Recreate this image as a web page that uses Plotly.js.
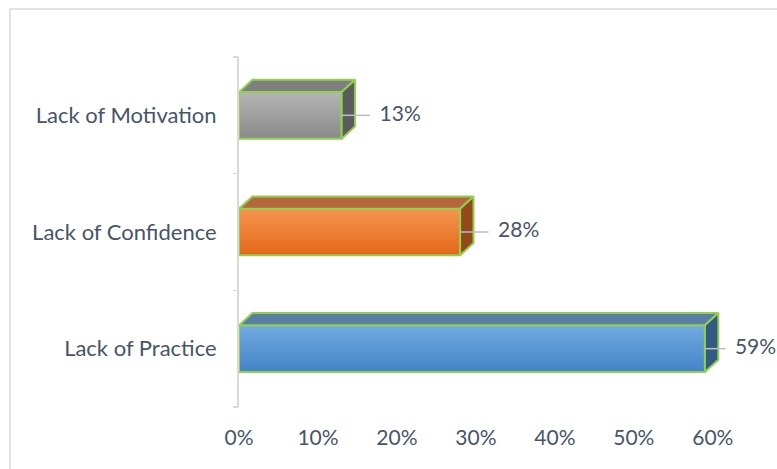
<!DOCTYPE html>
<html>
<head>
<meta charset="utf-8">
<script src="https://cdn.plot.ly/plotly-3.0.1.min.js"></script>
<style>
  html, body { margin: 0; padding: 0; background: #ffffff; }
  #wrap { position: relative; width: 777px; height: 469px; overflow: hidden; }
  #chart { width: 777px; height: 469px; }
  #frame { position: absolute; left: 9px; top: 8px; width: 800px; height: 500px;
           border-top: 2px solid #DEE3E9; border-left: 2px solid #DEE3E9; pointer-events: none; }
</style>
</head>
<body>
<div id="wrap">
  <div id="chart"></div>
  <div id="frame"></div>
</div>
<script>
// ---- data ----
const categories = ['Lack of Practice', 'Lack of Confidence', 'Lack of Motivation'];
const values = [59, 28, 13];                 // percent
const xTickValues = [0, 10, 20, 30, 40, 50, 60];
const xTickLabels = ['0%', '10%', '20%', '30%', '40%', '50%', '60%'];

// ---- style ----
const frontTop    = ['#72AAE0', '#F5944F', '#B4B4B4'];
const frontBottom = ['#4484C8', '#E4691A', '#8B8B8B'];
const topColors   = ['#5A7FA5', '#B6673D', '#7F7F7F'];
const sideColors  = ['#335B81', '#94491A', '#5C5C5C'];
const edgeColor = '#92D050';
const textColor = '#465569';
const fontFamily = 'Lato, "Open Sans", sans-serif';
const barWidth = 0.4;
const depthX = 1.7;    // depth offset in value units
const depthY = 0.105;  // depth offset in category units
const strips = 24;

function hexToRgb(h) { const n = parseInt(h.slice(1), 16); return [(n >> 16) & 255, (n >> 8) & 255, n & 255]; }
function mix(a, b, t) {
  const A = hexToRgb(a), B = hexToRgb(b);
  return 'rgb(' + A.map((v, i) => Math.round(v + (B[i] - v) * t)).join(',') + ')';
}

const pos = categories.map((c, i) => i);
const traces = [];

// top and side faces (depth)
values.forEach((v, i) => {
  const c = pos[i], h = barWidth / 2;
  traces.push({
    type: 'scatter', mode: 'lines', fill: 'toself',
    x: [0, v, v + depthX, depthX, 0],
    y: [c + h, c + h, c + h + depthY, c + h + depthY, c + h],
    fillcolor: topColors[i], line: { color: edgeColor, width: 2 },
    hoverinfo: 'skip', showlegend: false
  });
  traces.push({
    type: 'scatter', mode: 'lines', fill: 'toself',
    x: [v, v + depthX, v + depthX, v, v],
    y: [c - h, c - h + depthY, c + h + depthY, c + h, c - h],
    fillcolor: sideColors[i], line: { color: edgeColor, width: 2 },
    hoverinfo: 'skip', showlegend: false
  });
});

// front faces with vertical gradient: stacked overlapping layers, each reaching the top edge
for (let k = 0; k < strips; k++) {
  const t = 1 - k / (strips - 1); // k=0 bottom colour
  traces.push({
    type: 'bar', orientation: 'h',
    x: values, y: pos, base: 0,
    width: barWidth - k * barWidth / strips,
    offset: -barWidth / 2 + k * barWidth / strips,
    marker: { color: values.map((v, i) => mix(frontTop[i], frontBottom[i], t)), line: { width: 0 } },
    hoverinfo: 'skip', showlegend: false
  });
}
// front outline
traces.push({
  type: 'bar', orientation: 'h', x: values, y: pos, width: barWidth,
  marker: { color: 'rgba(0,0,0,0)', line: { color: edgeColor, width: 2 } },
  hoverinfo: 'skip', showlegend: false
});

// leader lines and data labels
const labelX = values.map(v => Math.min(v + 4.8, 62.8));
const lx = [], ly = [];
values.forEach((v, i) => { lx.push(v, labelX[i] - 1.2, null); ly.push(pos[i], pos[i], null); });
traces.push({
  type: 'scatter', mode: 'lines', x: lx, y: ly,
  line: { color: '#B7BFC9', width: 1.5 }, hoverinfo: 'skip', showlegend: false
});
traces.push({
  type: 'scatter', mode: 'text',
  x: labelX, y: pos,
  text: values.map(v => v + '%'), textposition: 'middle right',
  textfont: { family: fontFamily, size: 21, color: textColor },
  cliponaxis: false, hoverinfo: 'skip', showlegend: false
});

// invisible trace for the boundary-tick axis
traces.push({ type: 'scatter', mode: 'markers', x: [0], y: [-0.5], yaxis: 'y2',
  marker: { opacity: 0 }, hoverinfo: 'skip', showlegend: false });

const layout = {
  width: 777, height: 469,
  margin: { l: 239, r: 1, t: 57, b: 62 },
  paper_bgcolor: '#ffffff', plot_bgcolor: 'rgba(0,0,0,0)',
  barmode: 'overlay', showlegend: false,
  font: { family: fontFamily, color: textColor, size: 21 },
  xaxis: {
    range: [0, 68], tickvals: xTickValues, ticktext: xTickLabels,
    showgrid: false, zeroline: false, showline: false, ticks: '',
    ticklabelstandoff: 16, fixedrange: true,
    tickfont: { family: fontFamily, size: 21, color: textColor }
  },
  yaxis: {
    range: [-0.5, 2.5], tickvals: pos, ticktext: categories,
    showgrid: false, zeroline: false, showline: true, linecolor: '#D9D9D9', linewidth: 2,
    ticks: '', ticklabelstandoff: 16, fixedrange: true,
    tickfont: { family: fontFamily, size: 22, color: textColor }
  },
  yaxis2: {
    overlaying: 'y', side: 'left', range: [-0.5, 2.5],
    tickvals: [-0.5, 0.5, 1.5, 2.5], showticklabels: false,
    ticks: 'outside', ticklen: 5, tickwidth: 1.5, tickcolor: '#D9D9D9',
    showgrid: false, zeroline: false, showline: false, fixedrange: true
  }
};

Plotly.newPlot('chart', traces, layout, { staticPlot: true, displayModeBar: false });
</script>
</body>
</html>
